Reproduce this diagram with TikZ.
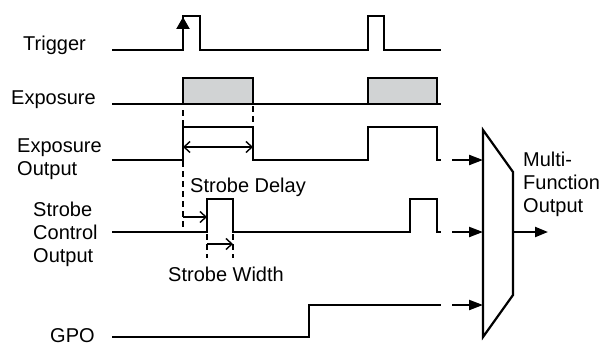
\documentclass[tikz,border=0pt]{standalone}
\usepackage{fontspec}
\setmainfont{Liberation Sans}
\usetikzlibrary{arrows.meta}
\definecolor{expgray}{HTML}{D1D3D4}
\begin{document}
\begin{tikzpicture}[x=1pt,y=-1pt,
  sig/.style={line width=2.2pt, line join=miter},
  guide/.style={line width=1.4pt, dash pattern=on 6pt off 4pt},
  meas/.style={line width=1.4pt, -{Straight Barb[length=6pt,width=11pt]}},
  feed/.style={line width=2.2pt, -{Triangle[length=14pt,width=10pt]}},
  lbl/.style={font=\fontsize{20}{23}\selectfont, align=left, inner sep=0pt, anchor=base west}]
\useasboundingbox (0,0) rectangle (604,345);

% labels (base anchor = baseline of the last line)
\node[lbl] (ltrig) at (23,51) {Trigger};
\node[lbl] (lexp) at (11,104) {Exposure};
\node[lbl] (lexpo) at (17,175) {Exposure\\Output};
\node[lbl] (lstr) at (33,262) {Strobe\\Control\\Output};
\node[lbl] (lgpo) at (50,342) {GPO};
\node[lbl] (lmfo) at (523,212) {Multi-\\Function\\Output};
\node[lbl] (ldel) at (190,192) {Strobe Delay};
\node[lbl] (lwid) at (168,281) {Strobe Width};

% waveforms
\draw[sig] (112,50) -- (183,50) -- (183,16) -- (200,16) -- (200,50) -- (368,50) -- (368,16) -- (384,16) -- (384,50) -- (441,50);
\draw[sig, -{Triangle[length=12pt,width=13pt]}] (183,40) -- (183,17);
\draw[sig] (112,104) -- (441,104);
\draw[sig, fill=expgray] (183,104) rectangle (253,78);
\draw[sig, fill=expgray] (368,104) rectangle (437,78);
\draw[sig] (112,160) -- (183,160) -- (183,127) -- (253,127) -- (253,160) -- (368,160) -- (368,127) -- (437,127) -- (437,160) -- (441,160);
\draw[sig] (112,232) -- (207,232) -- (207,199) -- (233,199) -- (233,232) -- (410,232) -- (410,199) -- (437,199) -- (437,232) -- (441,232);
\draw[sig] (112,337) -- (309,337) -- (309,305) -- (441,305);

% guides
\draw[guide] (183,110) -- (183,127);
\draw[guide] (183,161) -- (183,232);
\draw[guide] (253,106) -- (253,127);
\draw[guide] (207,234) -- (207,258);
\draw[guide] (233,234) -- (233,258);

% measurements
\draw[meas, {Straight Barb[length=6pt,width=11pt]}-{Straight Barb[length=6pt,width=11pt]}] (183,147) -- (253,147);
\draw[meas] (183,217) -- (207,217);
\draw[meas] (207,244) -- (233,244);

% multiplexer
\coordinate (mtl) at (483,130);
\coordinate (mtr) at (513,172);
\coordinate (mbr) at (513,295);
\coordinate (mbl) at (483,337);
\draw[sig] (mtl) -- (mtr) -- (mbr) -- (mbl) -- cycle;
\coordinate (in1) at (483,160);
\coordinate (in2) at (483,232);
\coordinate (in3) at (483,305);
\coordinate (out) at (513,232);
\coordinate (s1) at (452,160);
\coordinate (s2) at (452,232);
\coordinate (s3) at (452,305);
\coordinate (oend) at (548,232);
\draw[feed] (s1) -- (in1);
\draw[feed] (s2) -- (in2);
\draw[feed] (s3) -- (in3);
\draw[feed, -{Triangle[length=13pt,width=10pt]}] (out) -- (oend);
\end{tikzpicture}
\end{document}
